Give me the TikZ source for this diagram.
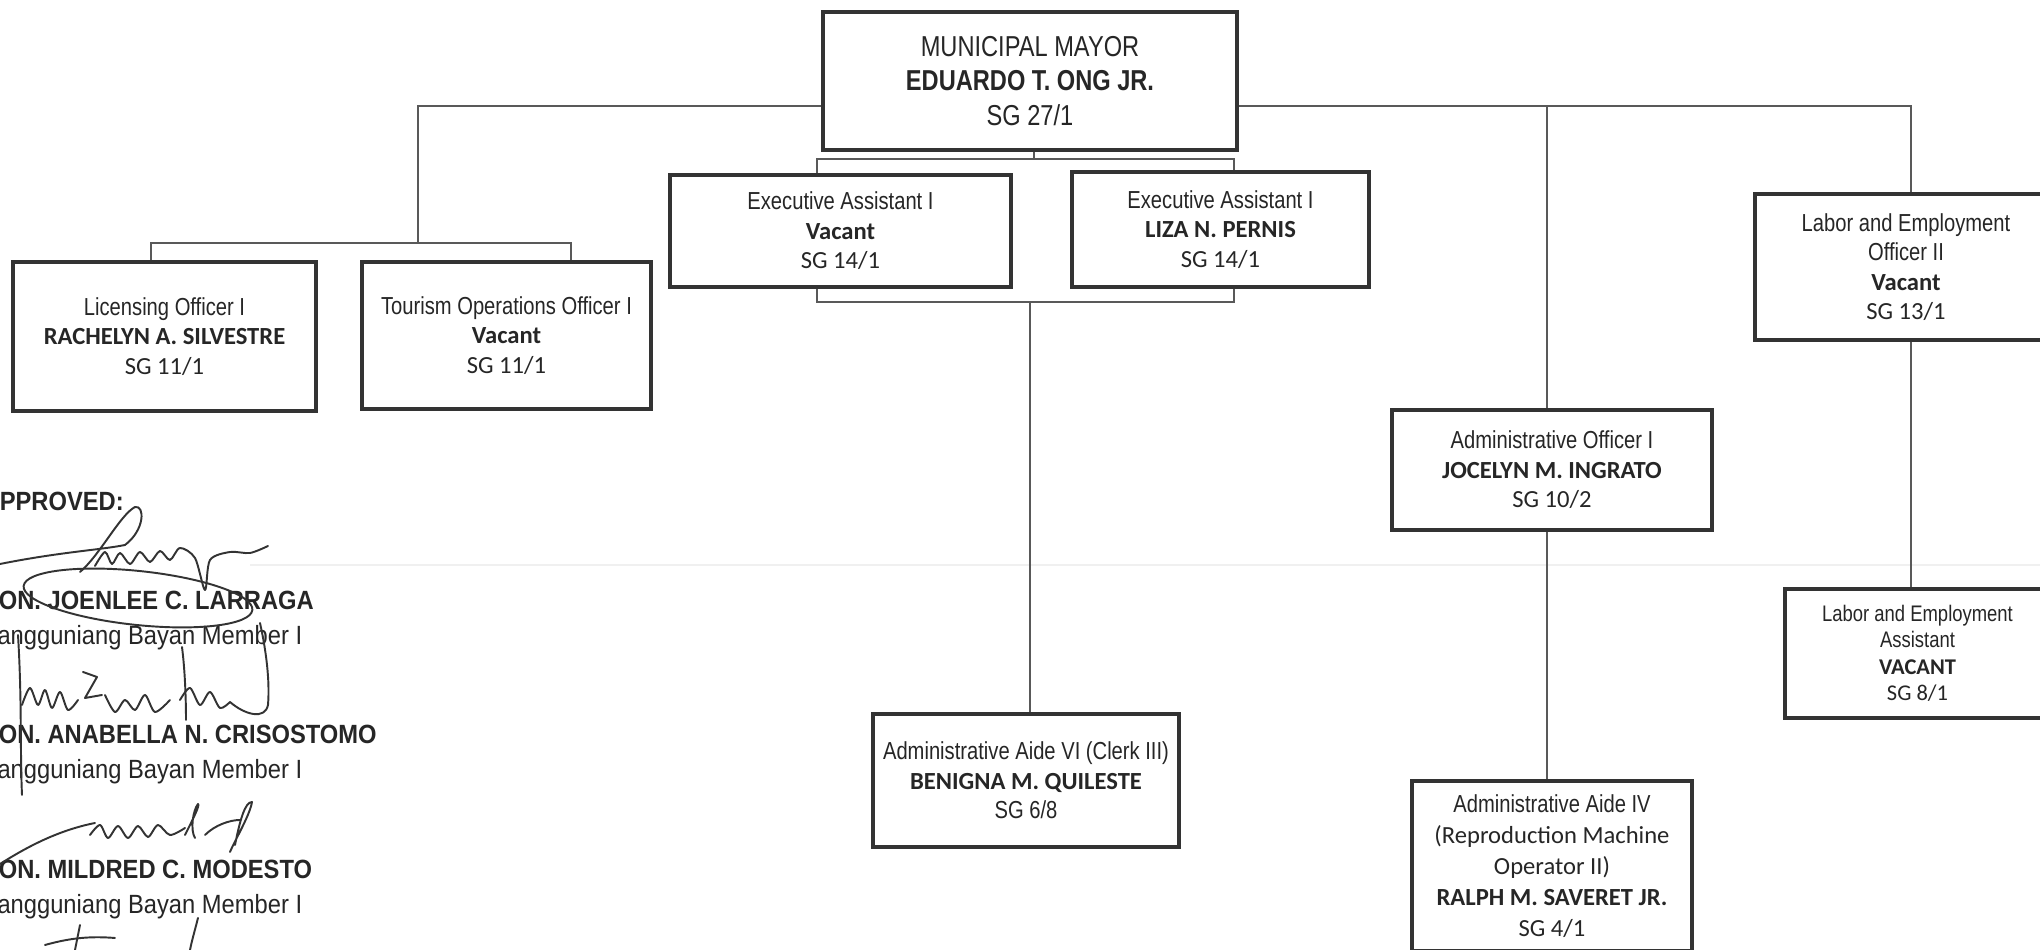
\documentclass[tikz,border=0pt]{standalone}
\usepackage{fontspec}
\newfontfamily\narrowfont[FakeStretch=0.82]{Liberation Sans}
\newfontfamily\signfont[FakeStretch=0.9]{Liberation Sans}
\newfontfamily\califont{Carlito}
\newcommand{\postitle}[1]{{\narrowfont #1}}
\newcommand{\postname}[1]{{\califont\bfseries #1}}
\newcommand{\postsg}[1]{{\califont #1}}

\begin{document}
\begin{tikzpicture}[post/.style={draw=black!80,line width=0.9pt,inner sep=0pt,align=center,
					text=black!85,font=\fontsize{7}{8.4}\selectfont},
				   link/.style={draw=black!65,line width=0.55pt},
				   ink/.style={black!80,line width=0.55pt,line cap=round,line join=round},
				   sign/.style={anchor=base west,inner sep=0pt,text=black!85,
					font=\signfont\fontsize{7.5}{9}\selectfont},
				   signhon/.style={sign,font=\signfont\bfseries\fontsize{7.5}{9}\selectfont}]
\useasboundingbox (0,0) rectangle (20.4,9.5);
\clip (0,0) rectangle (20.4,9.5);
\fill[white] (0,0) rectangle (20.4,9.5);
\draw[black!6,line width=0.6pt] (2.5,3.85) -- (20.4,3.85);

\node[post,minimum width=4.14cm,minimum height=1.38cm,font=\fontsize{8.2}{9.9}\selectfont] (mayor) at (10.30,8.69)
	{\postitle{MUNICIPAL MAYOR}\\{\narrowfont\bfseries EDUARDO T. ONG JR.}\\\postitle{SG 27/1}};
\node[post,minimum width=3.03cm,minimum height=1.49cm] (lic) at (1.645,6.135)
	{\postitle{Licensing Officer I}\\\postname{RACHELYN A. SILVESTRE}\\\postsg{SG 11/1}};
\node[post,minimum width=2.89cm,minimum height=1.47cm] (tour) at (5.065,6.145)
	{\postitle{Tourism Operations Officer I}\\\postname{Vacant}\\\postsg{SG 11/1}};
\node[post,minimum width=3.41cm,minimum height=1.12cm] (exec1) at (8.405,7.19)
	{\postitle{Executive Assistant I}\\\postname{Vacant}\\\postsg{SG 14/1}};
\node[post,minimum width=2.97cm,minimum height=1.15cm] (exec2) at (12.205,7.205)
	{\postitle{Executive Assistant I}\\\postname{LIZA N. PERNIS}\\\postsg{SG 14/1}};
\node[post,minimum width=3.06cm,minimum height=1.33cm] (aide6) at (10.26,1.695)
	{\postitle{Administrative Aide VI (Clerk III)}\\\postname{BENIGNA M. QUILESTE}\\\postitle{SG 6/8}};
\node[post,minimum width=3.20cm,minimum height=1.20cm] (adoff) at (15.52,4.80)
	{\postitle{Administrative Officer I}\\\postname{JOCELYN M. INGRATO}\\\postsg{SG 10/2}};
\node[post,minimum width=2.80cm,minimum height=1.70cm,font=\fontsize{7}{8.8}\selectfont] (aide4) at (15.52,0.84)
	{\postitle{Administrative Aide IV}\\\postsg{(Reproduction Machine}\\\postsg{Operator II)}\\
	\postname{RALPH M. SAVERET JR.}\\\postsg{SG 4/1}};
\node[post,minimum width=3.02cm,minimum height=1.46cm] (labof) at (19.06,6.83)
	{\postitle{Labor and Employment}\\\postitle{Officer II}\\\postname{Vacant}\\\postsg{SG 13/1}};
\node[post,minimum width=2.65cm,minimum height=1.29cm,font=\fontsize{6.4}{7.5}\selectfont] (labas) at (19.175,2.965)
	{\postitle{Labor and Employment}\\\postitle{Assistant}\\\postname{VACANT}\\\postsg{SG 8/1}};

\coordinate (lt) at (4.18,8.44);
\coordinate (lb) at (4.18,7.07);
\coordinate (rt) at (19.11,8.44);
\coordinate (rm) at (15.47,8.44);
\coordinate (et) at (10.34,7.91);
\coordinate (eb) at (10.30,6.48);

\draw[link] (mayor.west |- lt) -- (lt) -- (lb);
\draw[link] ([xshift=-0.135cm]lic.north) |- (lb) -| ([xshift=0.645cm]tour.north);
\draw[link] (mayor.east |- rt) -- (rt) -- (labof.north -| rt);
\draw[link] (rm) -- (adoff.north -| rm);
\draw[link] (adoff.south -| rm) -- (aide4.north -| rm);
\draw[link] (labof.south -| rt) -- (labas.north -| rt);
\draw[link] (mayor.south -| et) -- (et);
\draw[link] ([xshift=-0.235cm]exec1.north) |- (et) -| ([xshift=0.135cm]exec2.north);
\draw[link] ([xshift=-0.235cm]exec1.south) |- (eb) -| ([xshift=0.135cm]exec2.south);
\draw[link] (eb) -- (aide6.north -| eb);

\node[signhon] (appr) at (-0.18,4.39) {APPROVED:};
\node[signhon] (hon1) at (-0.19,3.40) {HON. JOENLEE C. LARRAGA};
\node[sign] (sb1) at (-0.19,3.05) {Sangguniang Bayan Member I};
\node[signhon] (hon2) at (-0.19,2.06) {HON. ANABELLA N. CRISOSTOMO};
\node[sign] (sb2) at (-0.19,1.71) {Sangguniang Bayan Member I};
\node[signhon] (hon3) at (-0.19,0.71) {HON. MILDRED C. MODESTO};
\node[sign] (sb3) at (-0.19,0.36) {Sangguniang Bayan Member I};

\draw[ink] (0.0,3.86) .. controls (0.6,3.98) and (1.0,4.0) .. (1.25,4.05)
	.. controls (1.45,4.2) and (1.45,4.45) .. (1.35,4.43) .. controls (1.2,4.35) and (1.0,3.95) .. (0.8,3.78);
\draw[ink] plot[smooth] coordinates {(0.95,3.84) (1.05,3.98) (1.12,3.86) (1.2,3.97) (1.3,3.86) (1.4,3.98)
	(1.5,3.88) (1.6,3.99) (1.7,3.9) (1.8,4.02) (1.95,3.92) (2.05,3.6) (2.1,3.9) (2.3,3.98) (2.5,3.97) (2.68,4.04)};
\draw[ink,rotate around={-6:(1.38,3.52)}] (1.38,3.52) ellipse (1.15 and 0.27);

\draw[ink] (0.18,3.15) .. controls (0.22,2.5) and (0.2,2.0) .. (0.22,1.55);
\draw[ink] plot[smooth] coordinates {(0.22,2.45) (0.3,2.62) (0.38,2.45) (0.45,2.6) (0.52,2.42) (0.6,2.58) (0.68,2.4) (0.78,2.5)};
\draw[ink] (0.83,2.78) -- (0.97,2.73) -- (0.85,2.52) -- (1.02,2.55);
\draw[ink] plot[smooth] coordinates {(1.05,2.55) (1.15,2.38) (1.25,2.5) (1.35,2.4) (1.45,2.55) (1.55,2.38) (1.7,2.5)};
\draw[ink] (1.82,3.03) .. controls (1.85,2.8) and (1.86,2.5) .. (1.86,2.30);
\draw[ink] plot[smooth] coordinates {(1.8,2.5) (1.9,2.62) (2.0,2.45) (2.1,2.58) (2.2,2.42) (2.3,2.48)};
\draw[ink] (2.3,2.48) .. controls (2.45,2.35) and (2.65,2.3) .. (2.68,2.45) .. controls (2.7,2.7) and (2.66,3.0) .. (2.6,3.27);

\draw[ink] (0.0,0.86) .. controls (0.3,1.05) and (0.6,1.2) .. (0.95,1.27);
\draw[ink] plot[smooth] coordinates {(0.9,1.15) (1.0,1.25) (1.08,1.12) (1.18,1.24) (1.28,1.12) (1.38,1.24)
	(1.48,1.13) (1.58,1.25) (1.7,1.15) (1.85,1.22)};
\draw[ink] (1.85,1.15) .. controls (1.95,1.35) and (2.0,1.45) .. (1.98,1.46) .. controls (1.93,1.4) and (1.9,1.2) .. (1.95,1.12);
\draw[ink] (2.05,1.15) .. controls (2.15,1.25) and (2.3,1.3) .. (2.4,1.3);
\draw[ink] (2.35,1.05) .. controls (2.4,1.3) and (2.45,1.48) .. (2.52,1.48) .. controls (2.5,1.35) and (2.35,1.1) .. (2.3,0.98);

\draw[ink] (0.45,0.05) .. controls (0.7,0.12) and (0.9,0.14) .. (1.15,0.12);
\draw[ink] (0.8,0.25) -- (0.75,0.0);
\draw[ink] (1.98,0.32) .. controls (1.95,0.2) and (1.92,0.1) .. (1.9,0.0);
\end{tikzpicture}
\end{document}
